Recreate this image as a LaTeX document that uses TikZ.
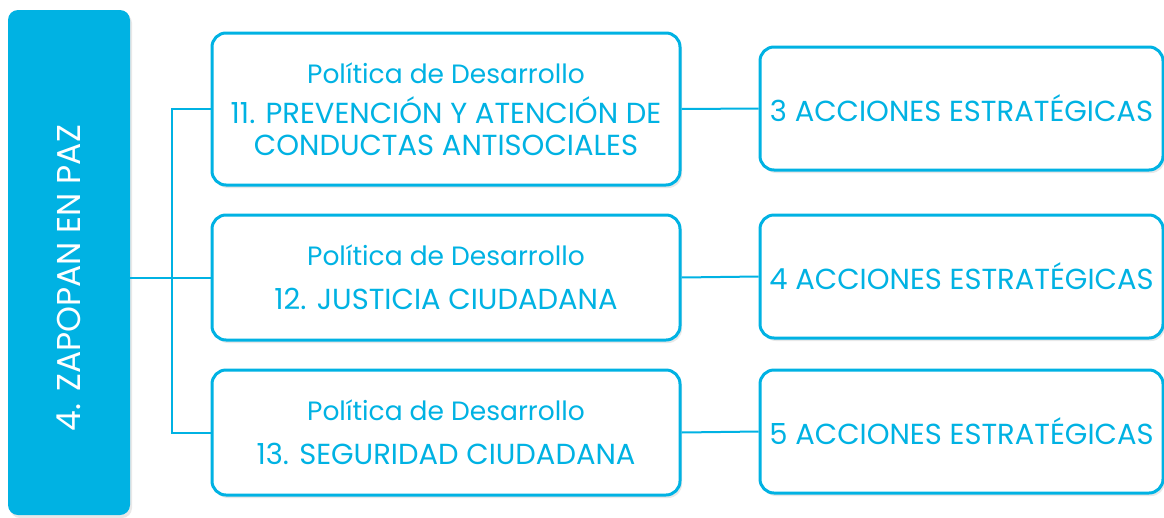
\documentclass[tikz,border=0pt]{standalone}
\usepackage{fontspec}
\setmainfont{Poppins}
\usetikzlibrary{shadows}
\definecolor{zapazul}{HTML}{00B2E3}

\newcommand{\poltit}{\fontsize{26.5}{34}\selectfont Política de Desarrollo}

\tikzset{
  sombra/.style={drop shadow={opacity=0.18, shadow xshift=2pt, shadow yshift=-3pt}},
  politica/.style={draw=zapazul, line width=3pt, rounded corners=14pt, fill=white,
    text=zapazul, align=center, minimum width=468pt, sombra,
    font=\fontsize{29}{34}\selectfont},
  acciones/.style={politica, minimum width=403pt, minimum height=123pt,
    font=\fontsize{29}{34}\selectfont},
  eje/.style={fill=zapazul, rounded corners=10pt, minimum width=122pt,
    minimum height=505pt, sombra},
  enlace/.style={draw=zapazul, line width=2pt}
}

\begin{document}
\begin{tikzpicture}[x=1pt,y=-1pt]
\useasboundingbox (0,0) rectangle (1164,517);

% eje
\node[eje] (eje) at (69,262.5) {};
\node[rotate=90, text=white, font=\fontsize{33}{40}\selectfont] (ejetexto) at (69,278) {4. ZAPOPAN EN PAZ};

% politicas
\node[politica, minimum height=152pt] (pol11) at (446,109)
  {\poltit\\[6pt]11. PREVENCIÓN Y ATENCIÓN DE\\[-2pt]CONDUCTAS ANTISOCIALES};
\node[politica, minimum height=125pt] (pol12) at (446,277.5)
  {\poltit\\[10pt]12. JUSTICIA CIUDADANA};
\node[politica, minimum height=125pt] (pol13) at (446,432.5)
  {\poltit\\[10pt]13. SEGURIDAD CIUDADANA};

% acciones
\node[acciones] (acc11) at (961.5,108.5) {3 ACCIONES ESTRATÉGICAS};
\node[acciones] (acc12) at (961.5,276.5) {4 ACCIONES ESTRATÉGICAS};
\node[acciones] (acc13) at (961.5,431.5) {5 ACCIONES ESTRATÉGICAS};

% llave
\coordinate (rama) at (172,277);
\draw[enlace] (eje.east |- pol12) -- (pol12.west);
\draw[enlace] (pol11.west) -- (pol11.west -| rama) -- (pol13.west -| rama) -- (pol13.west);

% enlaces
\draw[enlace] (pol11.east) -- (acc11.west);
\draw[enlace] (pol12.east) -- (acc12.west);
\draw[enlace] (pol13.east) -- (acc13.west);

\end{tikzpicture}
\end{document}
